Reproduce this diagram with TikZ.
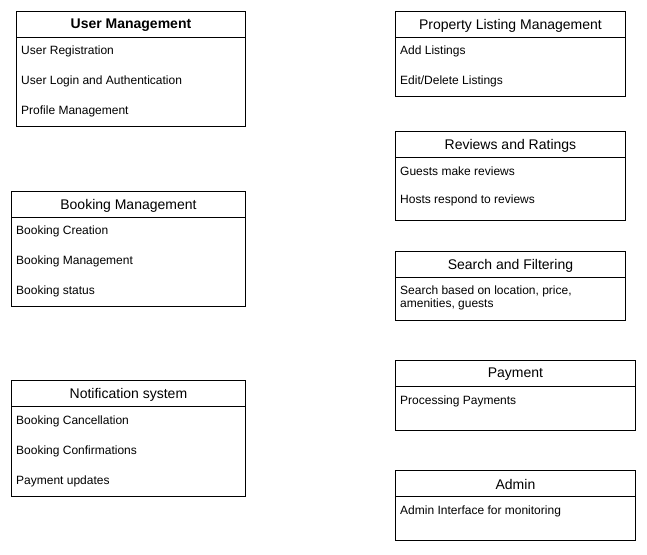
\documentclass[tikz,border=0pt]{standalone}
\usepackage{fontspec}
\setmainfont{Liberation Sans}
\tikzset{
  boxshape/.style={draw, line width=0.9pt, anchor=north west, inner sep=0pt},
  ttl/.style={font=\fontsize{14}{16}\selectfont, inner sep=0pt},
  item/.style={anchor=west, font=\fontsize{12}{13.5}\selectfont, inner sep=0pt, align=left},
  sep/.style={line width=0.9pt}
}
\newcommand\mybox[6]{%
  \node[boxshape, minimum width=#4pt, minimum height=#5pt] (#1) at (#2pt,-#3pt) {};
  \draw[sep] ([yshift=-26pt]#1.north west) -- ([yshift=-26pt]#1.north east);
  \node[ttl] (#1t) at ([yshift=-14.5pt]#1.north) {#6};
}
\newcommand\myitem[4]{%
  \node[item] (#1) at ([xshift=5pt,yshift=-#3pt]#2.north west) {#4};
}
\begin{document}
\begin{tikzpicture}
\useasboundingbox (0,0) rectangle (647pt,-554pt);
% left column
\mybox{um}{16}{11}{229}{115}{\textbf{User Management}}
\myitem{um1}{um}{40.5}{User Registration}
\myitem{um2}{um}{70.5}{User Login and Authentication}
\myitem{um3}{um}{100.5}{Profile Management}

\mybox{bm}{11}{191}{234}{115}{Booking Management}
\myitem{bm1}{bm}{40.5}{Booking Creation}
\myitem{bm2}{bm}{70.5}{Booking Management}
\myitem{bm3}{bm}{100.5}{Booking status}

\mybox{ns}{11}{380}{234}{116}{Notification system}
\myitem{ns1}{ns}{41}{Booking Cancellation}
\myitem{ns2}{ns}{71}{Booking Confirmations}
\myitem{ns3}{ns}{101}{Payment updates}

% right column
\mybox{pl}{395}{11}{230}{85}{Property Listing Management}
\myitem{pl1}{pl}{40.5}{Add Listings}
\myitem{pl2}{pl}{70.5}{Edit/Delete Listings}

\mybox{rr}{395}{131}{230}{89}{Reviews and Ratings}
\myitem{rr1}{rr}{40.5}{Guests make reviews}
\myitem{rr2}{rr}{69.5}{Hosts respond to reviews}

\mybox{sf}{395}{251}{230}{69}{Search and Filtering}
\myitem{sf1}{sf}{47}{Search based on location, price,\\amenities, guests}

\mybox{pay}{395}{360}{240}{70}{Payment}
\myitem{pay1}{pay}{41}{Processing Payments}

\mybox{adm}{395}{470}{240}{70}{Admin}
\myitem{adm1}{adm}{41}{Admin Interface for monitoring}
\end{tikzpicture}
\end{document}
